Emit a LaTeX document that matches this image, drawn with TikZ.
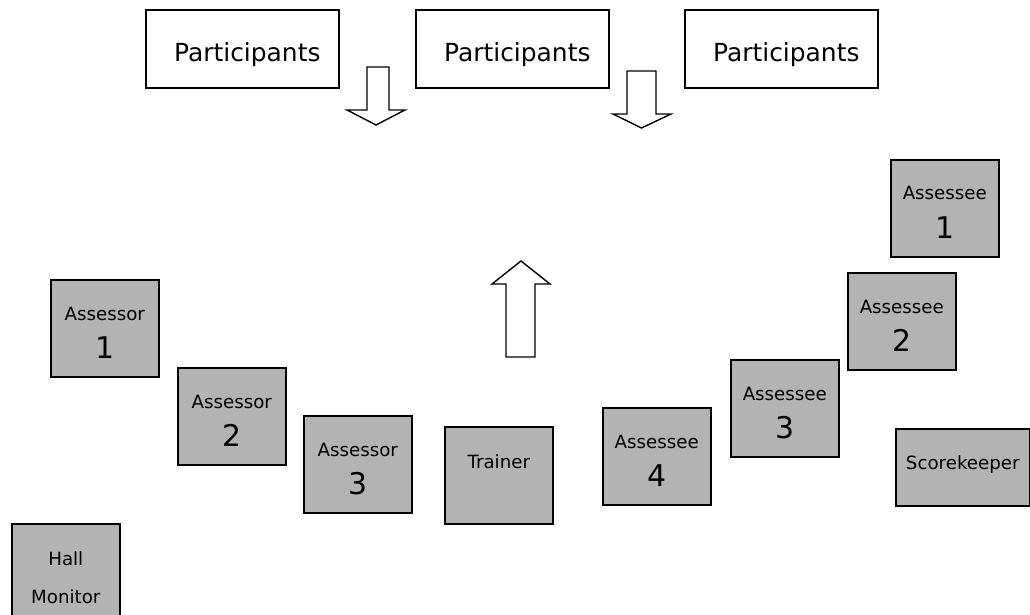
\documentclass[tikz,border=0pt]{standalone}
\usepackage{fontspec}
\setmainfont{DejaVu Sans}
\definecolor{boxgray}{RGB}{179,179,179}
\begin{document}
\begin{tikzpicture}[x=1bp,y=-1bp,
  person/.style={draw=black, line width=1.6bp, fill=boxgray, inner sep=0pt, minimum width=108bp, minimum height=97bp, anchor=north west},
  pbox/.style={draw=black, line width=1.6bp, fill=white, inner sep=0pt, minimum width=193bp, minimum height=78bp, anchor=north west},
  small/.style={anchor=base, font=\fontsize{18.3}{20}\selectfont, inner sep=0pt},
  big/.style={anchor=base, font=\fontsize{30}{32}\selectfont, inner sep=0pt},
  ptext/.style={anchor=base, font=\fontsize{25}{28}\selectfont, inner sep=0pt},
  blockarrow/.style={draw=black, line width=1.4bp, fill=white, line join=miter}
]
\clip (0,0) rectangle (1030,615);
\fill[white] (0,0) rectangle (1030,615);

% Participants boxes
\node[pbox] (p1) at (145,9) {};
\node[pbox] (p2) at (415,9) {};
\node[pbox] (p3) at (684,9) {};
\foreach \b in {p1,p2,p3}{
  \node[ptext] at ([xshift=5bp,yshift=-53bp]\b.north) {Participants};
}

% block arrows
\draw[blockarrow] (367,67) -- (389,67) -- (389,110) -- (405,110) -- (376,125) -- (347,110) -- (367,110) -- cycle;
\draw[blockarrow] (627,71) -- (656,71) -- (656,114) -- (671,114) -- (641.5,128) -- (613,114) -- (627,114) -- cycle;
\draw[blockarrow] (506,357) -- (535,357) -- (535,284) -- (550,284) -- (521,261) -- (492,284) -- (506,284) -- cycle;

% people
\node[person] (as1) at (50,279) {};
\node[person] (as2) at (177,367) {};
\node[person] (as3) at (303,415) {};
\node[person] (tr) at (444,426) {};
\node[person] (ae4) at (602,407) {};
\node[person] (ae3) at (730,359) {};
\node[person] (ae2) at (847,272) {};
\node[person] (ae1) at (890,159) {};
\node[person, minimum width=134bp, minimum height=77bp] (sk) at (895,428) {};
\node[person] (hm) at (11,523) {};

\node[small] at ([yshift=-41bp]as1.north) {Assessor};
\node[big]   at ([yshift=-79bp]as1.north) {1};
\node[small] at ([yshift=-41bp]as2.north) {Assessor};
\node[big]   at ([yshift=-79bp]as2.north) {2};
\node[small] at ([yshift=-41bp]as3.north) {Assessor};
\node[big]   at ([yshift=-79bp]as3.north) {3};
\node[small] at ([yshift=-42bp]tr.north) {Trainer};
\node[small] at ([yshift=-41bp]ae4.north) {Assessee};
\node[big]   at ([yshift=-79bp]ae4.north) {4};
\node[small] at ([yshift=-41bp]ae3.north) {Assessee};
\node[big]   at ([yshift=-79bp]ae3.north) {3};
\node[small] at ([yshift=-41bp]ae2.north) {Assessee};
\node[big]   at ([yshift=-79bp]ae2.north) {2};
\node[small] at ([yshift=-41bp]ae1.north) {Assessee};
\node[big]   at ([yshift=-79bp]ae1.north) {1};
\node[small] at ([yshift=-41bp]sk.north) {Scorekeeper};
\node[small] at ([yshift=-42bp]hm.north) {Hall};
\node[small] at ([yshift=-80bp]hm.north) {Monitor};
\end{tikzpicture}
\end{document}
